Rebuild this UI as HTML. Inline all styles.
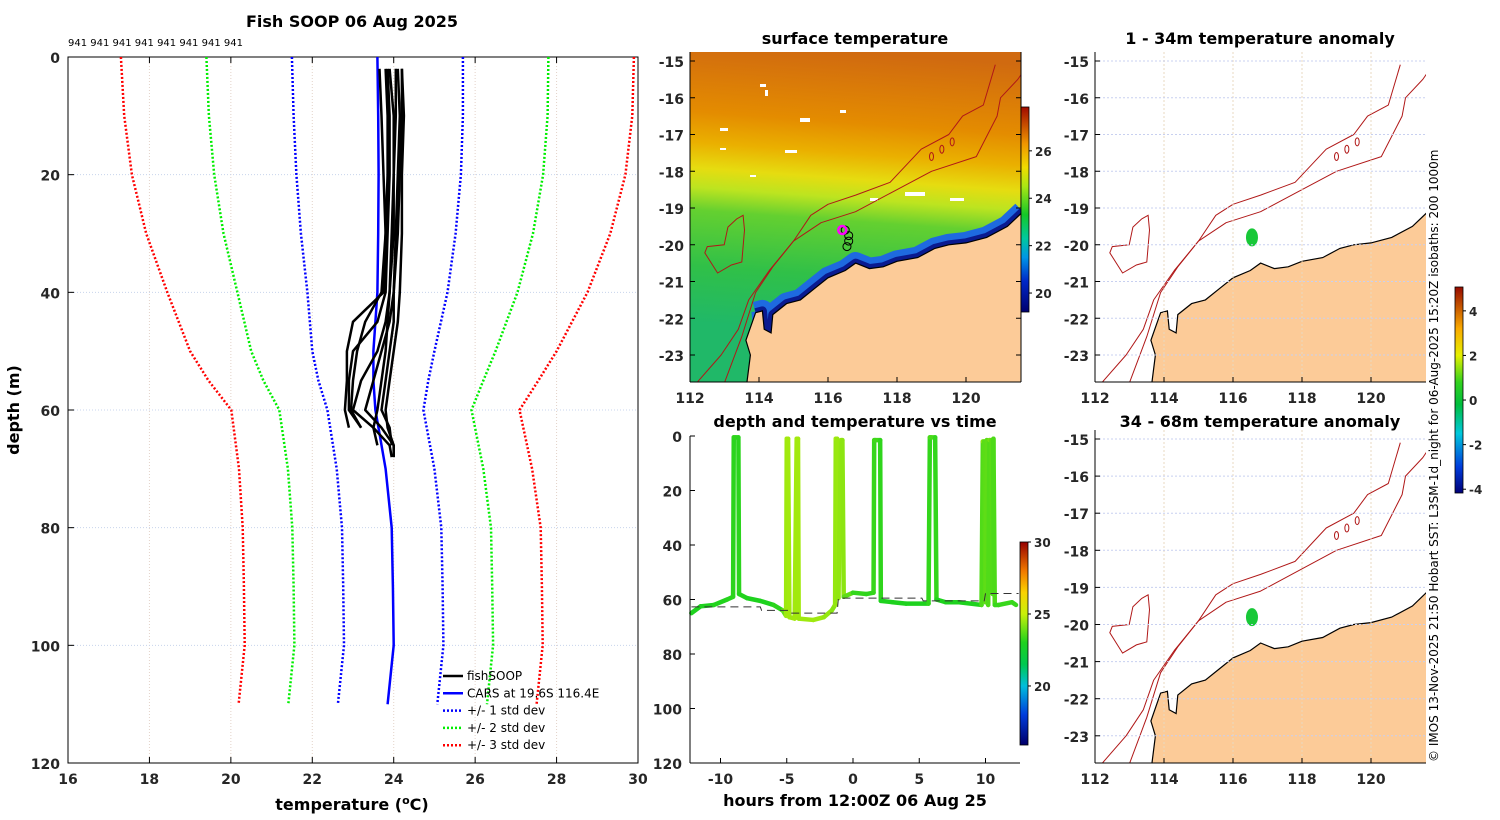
<!DOCTYPE html>
<html><head><meta charset="utf-8"><style>
html,body{margin:0;padding:0;background:#fff;}
svg{display:block;font-family:"DejaVu Sans","Liberation Sans",sans-serif;}
.tk{font-size:14px;font-weight:bold;fill:#262626;}
.ttl{font-size:16px;font-weight:bold;fill:#000;}
.nb{font-weight:normal;fill:#000;}
</style></head><body>
<svg id="fig" width="1500" height="820" viewBox="0 0 1500 820"></svg>
<script>
// ---------- DATA ----------
const profileTempTicks = [16,18,20,22,24,26,28,30];
const profileDepthTicks = [0,20,40,60,80,100,120];
const carsDepths = [0,10,20,30,40,50,55,60,70,80,90,100,110];
const carsMean = [23.6,23.62,23.63,23.62,23.6,23.5,23.5,23.55,23.8,23.95,23.98,24.0,23.85];
const carsStd = [2.1,2.08,2.02,1.9,1.72,1.5,1.35,1.18,1.2,1.22,1.22,1.22,1.22];
const soopDepths = [2,10,20,30,40,45,50,55,60,63,66,68];
const soopP1 = [23.65,23.7,23.75,23.8,23.75,23.0,22.85,22.85,22.8,22.9];
const soopP2 = [23.85,23.9,23.9,23.85,23.8,23.6,23.0,22.9,22.9,23.2];
const soopP3 = [24.05,24.05,24.0,24.0,23.9,23.8,23.6,23.2,23.0,23.5,23.9,23.95];
const soopP4 = [24.2,24.2,24.15,24.1,24.0,23.9,23.7,23.5,23.3,23.7,24.0,24.0];
const soopP5 = [23.9,24.0,24.0,23.95,23.9,23.85,23.8,23.7,23.6,23.5,23.6];
const soopP6 = [24.1,24.15,24.1,24.05,24.0,24.0,23.9,23.8,23.7,23.9,23.95];
const soopP7 = [23.8,23.85,23.85,23.8,23.7,23.3,23.1,23.0,22.95,23.2];
const soopP8 = [24.2,24.25,24.2,24.2,24.15,24.1,24.0,23.9,23.8,23.85,24.0,24.0];
const tsHours = [-12.2,-11.5,-10.5,-9.5,-9.05,-9.0,-8.85,-8.65,-8.6,-8.0,-7.0,-6.0,-5.3,-5.05,-5.0,-4.9,-4.8,-4.4,-4.25,-4.15,-4.1,-3.0,-2.2,-1.6,-1.35,-1.3,-1.2,-1.1,-0.9,-0.8,-0.7,0,1,1.55,1.6,1.7,2.05,2.1,3,4,5.7,5.8,5.9,6.2,6.3,7,8,9.7,9.8,9.9,10.0,10.1,10.2,10.3,10.45,10.55,10.6,10.7,11,12,12.3];
const tsDepth = [65,62.5,62,60,59,0.5,0.5,0.5,58,59.5,60.5,62,64,66,1,1,66.5,67,1,1,67,67.5,66.5,64,62,1,1,59.5,1.5,1.5,59,57.5,58,57.5,1.5,1.5,1.5,60.5,61,61.5,61.5,0.5,0.5,0.5,60,61,61,62,2,2,61,1.5,62,1.5,1.5,58,1,62,62,61,62];
const tsTemp = [23.0,23.0,23.0,23.1,23.1,23.2,23.2,23.2,23.1,23.0,23.0,23.0,23.3,24.4,24.6,24.6,24.5,24.5,24.6,24.6,24.5,24.5,24.5,24.3,24.2,24.6,24.6,24.3,24.4,24.4,24.2,23.3,23.2,23.2,23.4,23.4,23.4,23.0,23.0,23.0,23.0,23.5,23.5,23.5,23.0,23.0,23.0,23.0,24.2,24.2,23.2,24.3,23.2,24.0,24.0,23.4,23.8,23.3,23.3,23.3,23.3];
const bathHours = [-12.2,-7,-6.9,-4.8,-4.7,-1.2,-1.1,5.2,5.3,9.9,10.0,12.5];
const bathDepth = [62.7,62.7,64,64,65,65,59.5,59.5,60.5,60.5,57.8,57.8];
const sstCbTicks = [20,22,24,26];
const tsCbTicks = [20,25,30];
const anomCbTicks = [-4,-2,0,2,4];
const lonTicks = [112,114,116,118,120];
const latTicks = [-15,-16,-17,-18,-19,-20,-21,-22,-23];
const hourTicks = [-10,-5,0,5,10];
const tsDepthTicks = [0,20,40,60,80,100,120];
const coastLon = [113.65,113.75,113.62,113.9,114.1,114.15,114.35,114.4,114.8,115.2,115.6,116.0,116.5,116.8,117.2,117.6,118.0,118.6,119.1,119.5,120.0,120.6,121.2,121.65,121.65];
const coastLat = [-23.75,-23.0,-22.6,-21.85,-21.8,-22.3,-22.4,-21.9,-21.6,-21.5,-21.2,-20.9,-20.7,-20.5,-20.65,-20.6,-20.45,-20.35,-20.1,-20.0,-19.95,-19.8,-19.5,-19.1,-23.75];
const iso1000Lon = [112.2,112.9,113.4,113.7,114.3,115.0,115.5,116.0,116.8,117.8,118.7,119.5,119.9,120.5,120.85];
const iso1000Lat = [-23.75,-23.0,-22.3,-21.5,-20.7,-19.9,-19.2,-18.9,-18.65,-18.3,-17.4,-17.0,-16.5,-16.2,-15.1];
const iso200Lon = [113.0,113.5,113.9,114.4,115.0,115.8,116.8,117.8,119.0,120.3,120.9,121.0,121.5,121.65];
const iso200Lat = [-23.75,-22.5,-21.3,-20.6,-19.9,-19.4,-19.1,-18.6,-18.0,-17.6,-16.5,-16.0,-15.5,-15.3];
const islandLon = [113.54,113.58,113.5,113.2,112.8,112.43,112.5,112.99,113.1,113.35,113.54];
const islandLat = [-19.2,-19.6,-20.47,-20.55,-20.77,-20.22,-20.05,-20.0,-19.52,-19.3,-19.2];
const shipLon = [116.5,116.6,116.6,116.55];
const shipLat = [-19.6,-19.75,-19.9,-20.05];
const anomBlobLon = 116.55, anomBlobLat = -19.8;

// ---------- HELPERS ----------
const NS='http://www.w3.org/2000/svg';
const fig=document.getElementById('fig');
function mk(tag,attrs,parent){const e=document.createElementNS(NS,tag);for(const k in attrs)e.setAttribute(k,attrs[k]);(parent||fig).appendChild(e);return e;}
function txt(s,x,y,cls,anchor,parent){const t=mk('text',{x:x,y:y,'class':cls||'tk','text-anchor':anchor||'middle'},parent);t.textContent=s;return t;}
function pts(xs,ys){return xs.map((v,i)=>v.toFixed(1)+','+ys[i].toFixed(1)).join(' ');}
function lerpColor(stops,v){
  if(v<=stops[0][0])return 'rgb('+stops[0][1].join(',')+')';
  for(let i=1;i<stops.length;i++){if(v<=stops[i][0]){const a=stops[i-1],b=stops[i];const f=(v-a[0])/(b[0]-a[0]);return 'rgb('+a[1].map((c,j)=>Math.round(c+(b[1][j]-c)*f)).join(',')+')';}}
  return 'rgb('+stops[stops.length-1][1].join(',')+')';}
const defs=mk('defs',{});

// ---------- LEFT PROFILE PLOT ----------
const px=t=>68+(t-16)*(570/14);
const py=d=>57+d*(706/120);
txt('Fish SOOP 06 Aug 2025',352,27,'ttl');
const lbl941=txt('941 941 941 941 941 941 941 941',68,46,'nb','start');lbl941.setAttribute('style','font-size:10px');


const gL=mk('g',{});


profileTempTicks.forEach(t=>{mk('line',{x1:px(t),x2:px(t),y1:57,y2:763,stroke:'#e3d2c8','stroke-width':1,'stroke-dasharray':'1,2'},gL);
  mk('line',{x1:px(t),x2:px(t),y1:57,y2:63,stroke:'#000'},gL);mk('line',{x1:px(t),x2:px(t),y1:763,y2:757,stroke:'#000'},gL);
  const l=txt(String(t),px(t),784,'tk','middle',gL);});
profileDepthTicks.forEach(d=>{mk('line',{x1:68,x2:638,y1:py(d),y2:py(d),stroke:'#c8d4ec','stroke-width':1,'stroke-dasharray':'1,2'},gL);
  mk('line',{x1:68,x2:74,y1:py(d),y2:py(d),stroke:'#000'},gL);
  const l=txt(String(d),60,py(d)+6,'tk','end',gL);});
mk('rect',{x:68,y:57,width:570,height:706,fill:'none',stroke:'#000','stroke-width':1},gL);
const sdCols=['#0000ff','#00ee00','#ff0000'];
[1,2,3].forEach(k=>{[-1,1].forEach(s=>{
  const l=mk('polyline',{points:pts(carsMean.map((m,i)=>px(m+s*k*carsStd[i])),carsDepths.map(py)),fill:'none',stroke:sdCols[k-1],'stroke-width':2.5,'stroke-dasharray':'2,2'},gL);
  
  });});
const cars=mk('polyline',{points:pts(carsMean.map(px),carsDepths.map(py)),fill:'none',stroke:'#0000ff','stroke-width':2.5},gL);


[soopP1,soopP2,soopP3,soopP4,soopP5,soopP6,soopP7,soopP8].forEach((p,i)=>{
  const l=mk('polyline',{points:pts(p.map(px),soopDepths.slice(0,p.length).map(py)),fill:'none',stroke:'#000','stroke-width':2.5,'stroke-linejoin':'round'},gL);
  
  });
const leg=mk('g',{});


const legItems=[['fishSOOP','#000',''],['CARS at 19.6S 116.4E','#0000ff',''],['+/- 1 std dev','#0000ff','2,2'],['+/- 2 std dev','#00ee00','2,2'],['+/- 3 std dev','#ff0000','2,2']];
legItems.forEach((it,i)=>{const y=676+i*17.3;
  mk('line',{x1:443,x2:463,y1:y,y2:y,stroke:it[1],'stroke-width':2.5,'stroke-dasharray':it[2]||'none'},leg);
  const t=txt(it[0],467,y+4,'nb','start',leg);t.setAttribute('style','font-size:12px');
  
  });
const xl=mk('text',{x:352,y:810,'class':'ttl','text-anchor':'middle'});xl.innerHTML='temperature (<tspan font-size="11" dy="-6">o</tspan><tspan dy="6">C)</tspan>';


const yl=txt('depth (m)',0,0,'ttl');yl.setAttribute('transform','translate(19,410) rotate(-90)');



// ---------- MAP HELPERS ----------
const mx=(lon,x0)=>x0+(lon-112)*34.5;
function mapAxes(g,x0,y0top,ybot,lat2y,opts){
  lonTicks.forEach(l=>{if(opts.grid)mk('line',{x1:mx(l,x0),x2:mx(l,x0),y1:y0top,y2:ybot,stroke:'#e8d8c0','stroke-dasharray':'2,2'},g);
    mk('line',{x1:mx(l,x0),x2:mx(l,x0),y1:ybot,y2:ybot-5,stroke:'#000'},g);
    const t=txt(String(l),mx(l,x0),ybot+21,'tk','middle',g);});
  latTicks.forEach(l=>{const y=lat2y(l);if(opts.grid)mk('line',{x1:x0,x2:x0+331,y1:y,y2:y,stroke:'#c8d0f0','stroke-dasharray':'2,2'},g);
    mk('line',{x1:x0,x2:x0+5,y1:y,y2:y,stroke:'#000'},g);
    if(opts.rticks)mk('line',{x1:x0+331,x2:x0+326,y1:y,y2:y,stroke:'#000'},g);
    const t=txt(String(l),x0-6,y+6,'tk','end',g);});
}
function mapFeatures(g,x0,lat2y,coastBlue){
  const cX=coastLon.map(l=>mx(l,x0)),cY=coastLat.map(lat2y);
  if(coastBlue){
    const bx=cX.slice(3,-1),by=cY.slice(3,-1);
    mk('polyline',{points:pts(bx,by),fill:'none',stroke:'#1e6ae0','stroke-width':22,'stroke-linejoin':'round'},g);
    mk('polyline',{points:pts(bx,by),fill:'none',stroke:'#0a1a90','stroke-width':9,'stroke-linejoin':'round'},g);
  }
  const land=mk('polygon',{points:pts(cX,cY),fill:'#fccb98',stroke:'#000','stroke-width':1.2},g);
  
  
  const isoCol='#b01818';
  const a=mk('polyline',{points:pts(iso1000Lon.map(l=>mx(l,x0)),iso1000Lat.map(lat2y)),fill:'none',stroke:isoCol,'stroke-width':1,'stroke-linejoin':'round'},g);
  
  
  const b=mk('polyline',{points:pts(iso200Lon.map(l=>mx(l,x0)),iso200Lat.map(lat2y)),fill:'none',stroke:isoCol,'stroke-width':1,'stroke-linejoin':'round'},g);
  
  
  const c=mk('polygon',{points:pts(islandLon.map(l=>mx(l,x0)),islandLat.map(lat2y)),fill:'none',stroke:isoCol,'stroke-width':1},g);
  
  
  [[119.0,-17.6],[119.3,-17.4],[119.6,-17.2]].forEach(p=>mk('ellipse',{cx:mx(p[0],x0),cy:lat2y(p[1]),rx:2,ry:4,fill:'none',stroke:isoCol},g));
}
function colorbar(g,x,y1,y2,v1,v2,stops,ticks,name){
  const id='cb'+name;const lg=mk('linearGradient',{id:id,x1:0,y1:1,x2:0,y2:0},defs);
  stops.forEach(s=>mk('stop',{offset:((s[0]-v1)/(v2-v1)).toFixed(3),'stop-color':'rgb('+s[1].join(',')+')'},lg));
  const r=mk('rect',{x:x,y:y1,width:8,height:y2-y1,fill:'url(#'+id+')',stroke:'#000','stroke-width':0.8},g);
  
  
  ticks.forEach(t=>{const y=y2-(t-v1)/(v2-v1)*(y2-y1);mk('line',{x1:x+8,x2:x+11,y1:y,y2:y,stroke:'#000'},g);
    const l=txt(String(t),x+14,y+5,'tk','start',g);l.setAttribute('style','font-size:12px');});
}
const sstStops=[[19.2,[0,0,110]],[20.5,[0,40,200]],[21.5,[0,150,230]],[22.3,[0,200,160]],[23.3,[20,200,40]],[24.5,[170,230,20]],[25.3,[240,220,0]],[26.3,[240,150,0]],[27.85,[160,10,0]]];
const tsStops=[[16,[0,0,110]],[18,[0,60,220]],[20,[0,190,220]],[21.5,[0,200,80]],[23,[30,210,30]],[25,[200,240,10]],[26.5,[250,210,0]],[28,[240,120,0]],[30,[150,0,0]]];
const anStops=[[-4.17,[0,0,120]],[-3,[0,60,220]],[-1.5,[0,200,220]],[-0.2,[0,190,60]],[0.8,[50,210,30]],[2,[230,240,0]],[3.2,[250,170,0]],[5.07,[150,10,0]]];

// ---------- SST MAP ----------
const latTop=l=>61+(-15-l)*36.75;
const gS=mk('g',{});


txt('surface temperature',855,44,'ttl','middle',gS);
const cpS=mk('clipPath',{id:'clipS'},defs);mk('rect',{x:690,y:52,width:331,height:330},cpS);
const sg=mk('linearGradient',{id:'sstg',gradientUnits:'userSpaceOnUse',x1:820,y1:50,x2:800,y2:330},defs);
[[0,'#d06a10'],[0.25,'#e48c00'],[0.36,'#eab000'],[0.45,'#e6dc10'],[0.52,'#bce420'],[0.6,'#64d030'],[0.8,'#30c048'],[1,'#20b868']].forEach(s=>mk('stop',{offset:s[0],'stop-color':s[1]},sg));
const sc=mk('g',{'clip-path':'url(#clipS)'},gS);
const sstField=mk('rect',{x:690,y:52,width:331,height:330,fill:'url(#sstg)'},sc);


[[760,84,6,3],[765,90,3,6],[800,118,10,4],[785,150,12,3],[720,128,8,3],[720,148,6,2],[905,192,20,4],[950,198,14,3],[870,198,8,3],[750,175,6,2],[840,110,6,3],[975,232,12,4]].forEach(r=>mk('rect',{x:r[0],y:r[1],width:r[2],height:r[3],fill:'#fff'},sc));
mapFeatures(sc,690,latTop,true);
shipLon.forEach((l,i)=>mk('circle',{cx:mx(l,690),cy:latTop(shipLat[i]),r:4,fill:'none',stroke:'#000','stroke-width':1},sc));
const ship=mk('circle',{cx:mx(shipLon[0],690)-3,cy:latTop(shipLat[0]),r:4,fill:'none',stroke:'#ff00ff','stroke-width':2.5},sc);


mk('line',{x1:690,x2:690,y1:52,y2:382,stroke:'#000'},gS);mk('line',{x1:690,x2:1021,y1:382,y2:382,stroke:'#000'},gS);mk('line',{x1:1021,x2:1021,y1:52,y2:382,stroke:'#000'},gS);
mapAxes(gS,690,52,382,latTop,{grid:false,rticks:true});
colorbar(gS,1021,107,312,19.2,27.85,sstStops,sstCbTicks,'sst');

// ---------- TIME SERIES ----------
const tx=h=>853+h*13.25;
const ty=d=>436+d*(327/120);
const gT=mk('g',{});


txt('depth and temperature vs time',855,427,'ttl','middle',gT);
for(let i=1;i<tsHours.length;i++){
  const seg=mk('line',{x1:tx(tsHours[i-1]),y1:ty(tsDepth[i-1]),x2:tx(tsHours[i]),y2:ty(tsDepth[i]),stroke:lerpColor(tsStops,(tsTemp[i-1]+tsTemp[i])/2),'stroke-width':4.5,'stroke-linecap':'round'},gT);
  
  }
const bath=mk('polyline',{points:pts(bathHours.map(tx),bathDepth.map(ty)),fill:'none',stroke:'#333','stroke-width':1,'stroke-dasharray':'8,5'},gT);


mk('line',{x1:690,x2:690,y1:436,y2:763,stroke:'#000'},gT);mk('line',{x1:690,x2:1020,y1:763,y2:763,stroke:'#000'},gT);
hourTicks.forEach(h=>{mk('line',{x1:tx(h),x2:tx(h),y1:763,y2:758,stroke:'#000'},gT);
  const l=txt(String(h),tx(h),784,'tk','middle',gT);});
tsDepthTicks.forEach(d=>{mk('line',{x1:690,x2:695,y1:ty(d),y2:ty(d),stroke:'#000'},gT);
  const l=txt(String(d),682,ty(d)+6,'tk','end',gT);});
const tl=txt('hours from 12:00Z 06 Aug 25',855,806,'ttl','middle',gT);


colorbar(gT,1020,542,745,15.9,30,tsStops,tsCbTicks,'depth-temp');

// ---------- ANOMALY MAPS ----------
function anomMap(name,title,ytop,ybot,lat2y,titleY){
  const g=mk('g',{});
  
  
  txt(title,1260,titleY,'ttl','middle',g);
  const cp=mk('clipPath',{id:'clip'+name},defs);mk('rect',{x:1095,y:ytop,width:331,height:ybot-ytop},cp);
  const c=mk('g',{'clip-path':'url(#clip'+name+')'},g);
  mapAxes(g,1095,ytop,ybot,lat2y,{grid:true,rticks:false});
  mapFeatures(c,1095,lat2y,false);
  const blob=mk('ellipse',{cx:mx(anomBlobLon,1095),cy:lat2y(anomBlobLat),rx:6,ry:9,fill:'#18c838'},c);
  
  
  mk('line',{x1:1095,x2:1095,y1:ytop,y2:ybot,stroke:'#000'},g);mk('line',{x1:1095,x2:1426,y1:ybot,y2:ybot,stroke:'#000'},g);
}
anomMap('anomaly-map-1-34m','1 - 34m temperature anomaly',52,382,latTop,44);
anomMap('anomaly-map-34-68m','34 - 68m temperature anomaly',430,763,l=>439+(-15-l)*37.1,427);
colorbar(fig,1455,287,493,-4.17,5.07,anStops,anomCbTicks,'anomaly');
const cr=txt('© IMOS 13-Nov-2025 21:50 Hobart SST: L3SM-1d_night for 06-Aug-2025 15:20Z isobaths: 200  1000m',0,0,'nb','start');
cr.setAttribute('style','font-size:12px');
cr.setAttribute('transform','translate(1438,762) rotate(-90)');


</script>
</body></html>
